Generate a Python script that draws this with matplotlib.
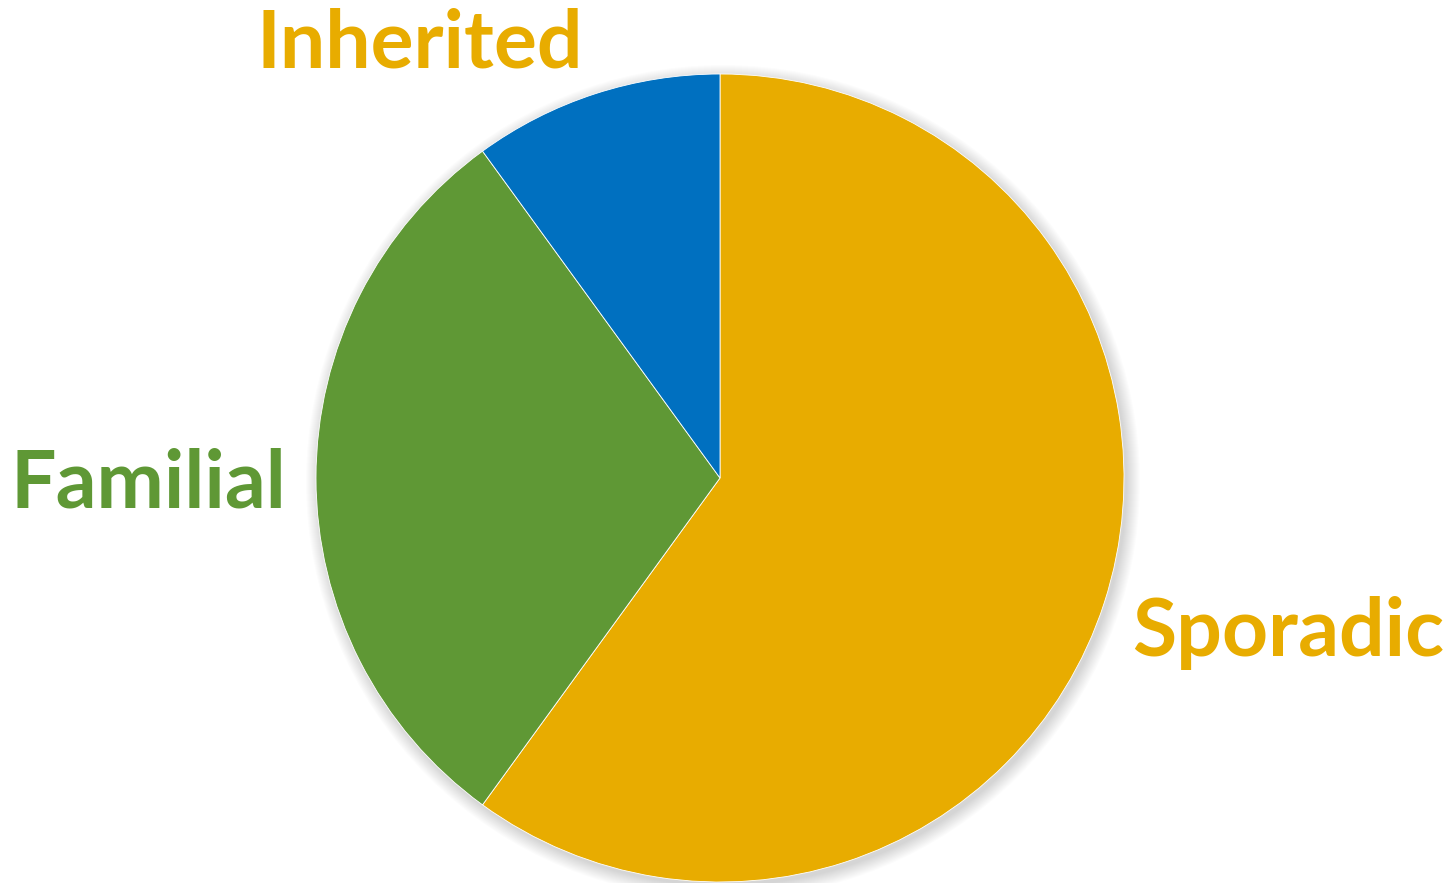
import matplotlib
matplotlib.use("Agg")
import matplotlib.pyplot as plt
from matplotlib.patches import Circle

# ========= Data =========
labels = ["Sporadic", "Familial", "Inherited"]
shares = [60, 30, 10]
colors = ["#E8AC00", "#5F9835", "#0070C0"]
label_colors = ["#E8AC00", "#5F9835", "#E8AC00"]

# ========= Plot =========
fig = plt.figure(figsize=(14.53, 8.83), dpi=100)
ax = fig.add_axes([0, 0, 1, 1])

cx, cy, r = 720, 405, 404

# soft shadow behind the pie
for i in range(14):
    ax.add_patch(Circle((cx + 3, cy - 4), r + 13 - i, color="black", alpha=0.013, lw=0, zorder=0))

ax.pie(shares, colors=colors, startangle=90, counterclock=False,
       center=(cx, cy), radius=r, frame=True,
       wedgeprops=dict(linewidth=0.6, edgecolor="white"))
ax.set_xlim(0, 1453)
ax.set_ylim(0, 883)
ax.axis("off")

label_pos = {"Inherited": (420, 883 - 68), "Familial": (148, 883 - 508), "Sporadic": (1288, 883 - 656)}
for lab, col in zip(labels, label_colors):
    x, y = label_pos[lab]
    ax.text(x, y, lab, color=col, fontsize=58, fontweight="bold", family="Lato",
            ha="center", va="baseline")

plt.savefig("out.png", dpi=100)
